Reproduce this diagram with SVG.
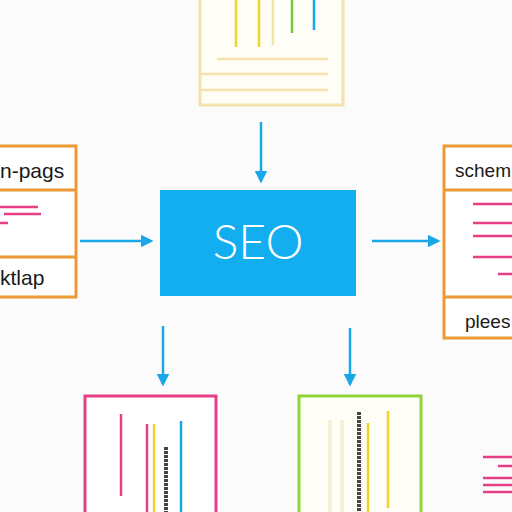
<svg xmlns="http://www.w3.org/2000/svg" width="512" height="512" viewBox="0 0 512 512">
<defs>
<style>
.txt{font-family:"Liberation Sans",Arial,sans-serif;fill:#1a1a1a;font-size:21px}
.txr{font-family:"Liberation Sans",Arial,sans-serif;fill:#1a1a1a;font-size:19px}
.conn{stroke:#1aa7e8;stroke-width:2.5;fill:none}
.pk{stroke:#e63f86;stroke-width:2.5}
.yl{stroke:#f2d32a;stroke-width:2.5}
.bl{stroke:#1aa7e8;stroke-width:2.5}
.gr{stroke:#7cc242;stroke-width:2.5}
.pale{stroke:#f5e3ac;stroke-width:2.5}
.paleg{stroke:#f4f2d6;stroke-width:4}
</style>
<marker id="ah" viewBox="0 0 10 10" refX="8" refY="5" markerWidth="5" markerHeight="5" orient="auto">
<path d="M0,0 L10,5 L0,10 z" fill="#1aa7e8"/>
</marker>
</defs>
<rect width="512" height="512" fill="#fbfbfb"/>

<g id="top">
<rect x="200" y="-5" width="143" height="110" fill="#fefdf6" stroke="#f5e3ac" stroke-width="3"/>
<line class="yl" x1="236" y1="0" x2="236" y2="47"/>
<line class="yl" x1="259" y1="0" x2="259" y2="47"/>
<line class="pale" x1="273" y1="0" x2="273" y2="45"/>
<line class="gr" x1="292" y1="0" x2="292" y2="33"/>
<line class="bl" x1="314" y1="0" x2="314" y2="30"/>
<line class="pale" x1="217" y1="59" x2="328" y2="59"/>
<line class="pale" x1="201" y1="74" x2="328" y2="74"/>
<line class="pale" x1="201" y1="90" x2="328" y2="90"/>
</g>

<g id="seo">
<rect x="160" y="190" width="196" height="106" fill="#13aef0"/>
<text x="258" y="259" text-anchor="middle" font-family="Lato,'Open Sans',sans-serif" font-weight="300" font-size="48" fill="#ffffff">SEO</text>
</g>

<g id="left">
<rect x="-5" y="146" width="81" height="151" fill="#ffffff" stroke="#eb9a35" stroke-width="3"/>
<line x1="-5" y1="190" x2="76" y2="190" stroke="#eb9a35" stroke-width="3"/>
<line x1="-5" y1="257" x2="76" y2="257" stroke="#eb9a35" stroke-width="3"/>
<text class="txt" x="0" y="178">n-pags</text>
<text class="txt" x="0" y="285">ktlap</text>
<line class="pk" x1="0" y1="207" x2="38" y2="207"/>
<line class="pk" x1="4" y1="214" x2="41" y2="214"/>
<line class="pk" x1="0" y1="223" x2="8" y2="223"/>
</g>

<g id="right">
<rect x="444" y="146" width="75" height="192" fill="#ffffff" stroke="#eb9a35" stroke-width="3"/>
<line x1="444" y1="190" x2="512" y2="190" stroke="#eb9a35" stroke-width="3"/>
<line x1="444" y1="297" x2="512" y2="297" stroke="#eb9a35" stroke-width="3"/>
<text class="txr" x="455" y="177">schem</text>
<text class="txr" x="465" y="328">plees</text>
<line class="pk" x1="473" y1="204" x2="512" y2="204"/>
<line class="pk" x1="473" y1="223" x2="512" y2="223"/>
<line class="pk" x1="473" y1="236" x2="512" y2="236"/>
<line class="pk" x1="473" y1="257" x2="512" y2="257"/>
<line class="pk" x1="498" y1="274" x2="512" y2="274"/>
</g>

<g id="bottom-left">
<rect x="85" y="396" width="131" height="125" fill="#ffffff" stroke="#e63f86" stroke-width="3"/>
<line class="pk" x1="121" y1="414" x2="121" y2="496"/>
<line class="pk" x1="147" y1="424" x2="147" y2="512"/>
<line class="yl" x1="154" y1="424" x2="154" y2="512"/>
<line class="bl" x1="181" y1="421" x2="181" y2="512"/>
<line x1="166" y1="447" x2="166" y2="512" stroke="#444" stroke-width="4" stroke-dasharray="3,1"/>
</g>

<g id="bottom-right">
<rect x="299" y="396" width="122" height="125" fill="#fefef6" stroke="#8fd43a" stroke-width="3"/>
<line class="paleg" x1="330" y1="420" x2="330" y2="512"/>
<line class="paleg" x1="342" y1="420" x2="342" y2="512"/>
<line class="yl" x1="368" y1="423" x2="368" y2="512"/>
<line class="yl" x1="388" y1="411" x2="388" y2="508"/>
<line x1="359" y1="412" x2="359" y2="512" stroke="#444" stroke-width="4" stroke-dasharray="3,1"/>
</g>

<g id="corner">
<line class="pk" x1="483" y1="457" x2="512" y2="457"/>
<line class="pk" x1="498" y1="466" x2="512" y2="466"/>
<line class="pk" x1="483" y1="478" x2="512" y2="478"/>
<line class="pk" x1="483" y1="485" x2="512" y2="485"/>
<line class="pk" x1="483" y1="492" x2="512" y2="492"/>
</g>

<g id="connectors">
<line class="conn" x1="261" y1="122" x2="261" y2="181" marker-end="url(#ah)"/>
<line class="conn" x1="80" y1="241" x2="151" y2="241" marker-end="url(#ah)"/>
<line class="conn" x1="372" y1="241" x2="438" y2="241" marker-end="url(#ah)"/>
<line class="conn" x1="163" y1="326" x2="163" y2="384" marker-end="url(#ah)"/>
<line class="conn" x1="350" y1="328" x2="350" y2="384" marker-end="url(#ah)"/>
</g>
</svg>
